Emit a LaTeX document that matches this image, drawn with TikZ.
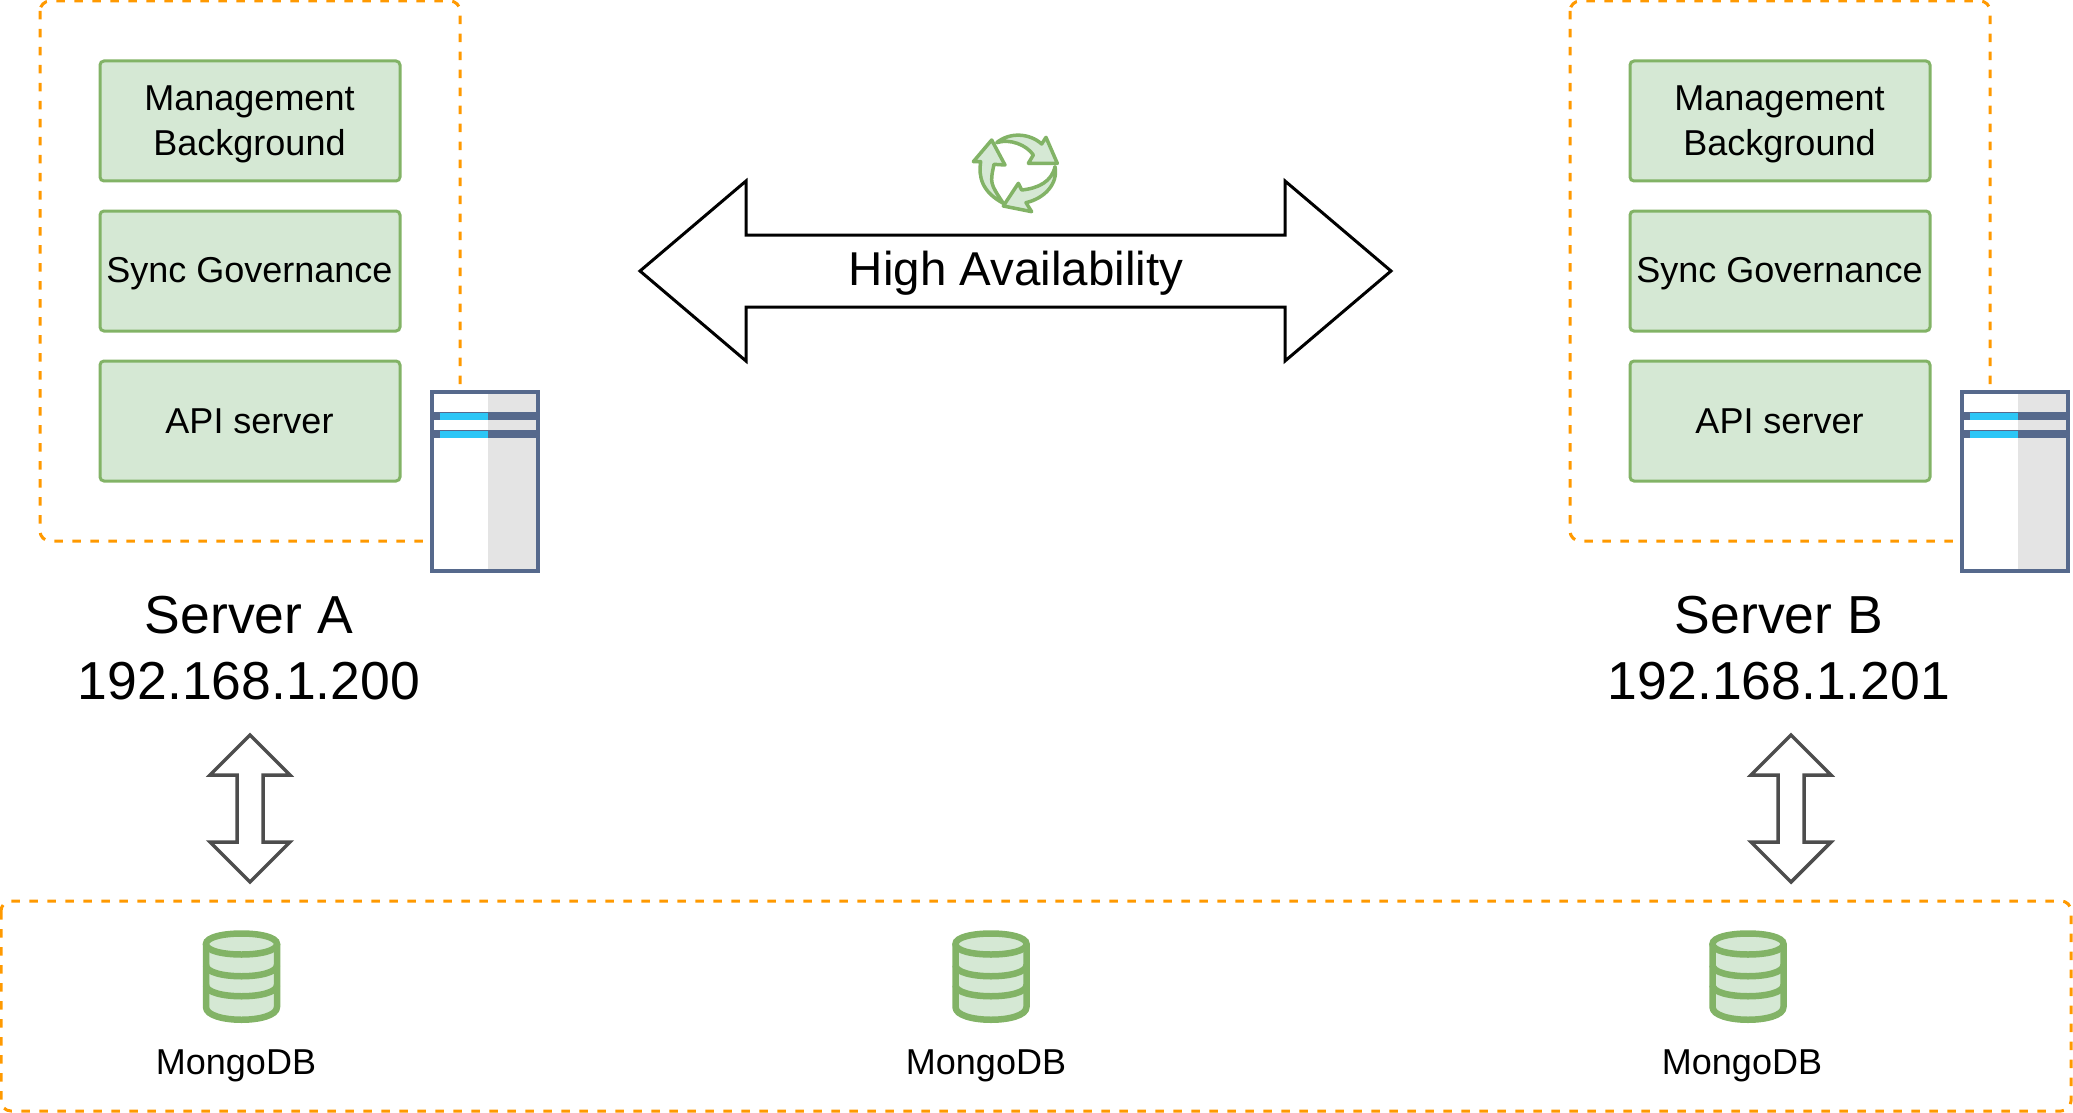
\documentclass[tikz,border=0pt]{standalone}
\usepackage{fontspec}
\setmainfont{Liberation Sans}
\definecolor{gfill}{HTML}{D5E8D4}
\definecolor{gline}{HTML}{82B366}
\definecolor{orng}{HTML}{FF9900}
\definecolor{srv}{HTML}{56698C}
\definecolor{cyanbar}{HTML}{2CC6F6}
\definecolor{graypan}{HTML}{E4E4E4}
\definecolor{darkarrow}{HTML}{4D4D4D}
\tikzset{
  greenbox/.style={draw=gline,fill=gfill,line width=3pt,rounded corners=4pt,minimum width=300pt,minimum height=120pt,inner sep=0pt,align=center,font=\fontsize{36}{45}\selectfont},
  greentext/.style={inner sep=0pt,align=center,font=\fontsize{36}{45}\selectfont},
  dashbox/.style={draw=orng,line width=3pt,dash pattern=on 8.5pt off 9.5pt,rounded corners=10pt},
  bigarrow/.style={draw=black,fill=white,line width=3pt,line join=miter},
  smallarrow/.style={draw=darkarrow,fill=white,line width=3.5pt,line join=miter},
  dbstroke/.style={draw=gline,line width=6.5pt},
  srvlabel/.style={align=center,font=\fontsize{53.5}{66}\selectfont,inner sep=0pt},
  dblabel/.style={font=\fontsize{36}{45}\selectfont,inner sep=0pt},
  arrowicon/.style={draw=gline,fill=gfill,line width=3.5pt,line join=round},
}
\newcommand{\serverblock}[3]{%
  \begin{scope}[shift={(#1,0)},name prefix=#2-]
    \draw[dashbox] (40,1) rectangle (460,541);
    \node[greenbox] (mgmt) at (250,121) {};
    \node[greenbox] (sync) at (250,271) {};
    \node[greenbox] (api) at (250,421) {};
    \node[greentext] (mgmttext) at (249.5,124.5) {Management\\Background};
    \node[greentext] (synctext) at (249.5,274) {Sync Governance};
    \node[greentext] (apitext) at (249.5,421) {API server};
    \fill[white] (431.5,392) rectangle (538,570.7);
    \fill[graypan] (488,392) rectangle (538,570.7);
    \fill[srv] (433,412) rectangle (536,420);
    \fill[cyanbar] (440,412.5) rectangle (488,419.5);
    \fill[srv] (433,430) rectangle (536,438);
    \fill[cyanbar] (440,430.5) rectangle (488,437.5);
    \draw[draw=srv,line width=4pt] (431.5,392) rectangle (538,570.7);
    \node[srvlabel] (label) at (249,648) {#3};
  \end{scope}}
\newcommand{\dbicon}[2]{%
  \begin{scope}[shift={(#1,0)},name prefix=#2-]
    \fill[gfill] (206,944) -- (206,1007) .. controls (206,1024) and (277,1024) .. (277,1007) -- (277,944) .. controls (277,930) and (206,930) .. (206,944) -- cycle;
    \draw[dbstroke] (206,944) .. controls (206,930) and (277,930) .. (277,944) .. controls (277,958) and (206,958) .. (206,944) -- cycle;
    \draw[dbstroke,line join=round] (206,944) -- (206,1007) .. controls (206,1024) and (277,1024) .. (277,1007) -- (277,944);
    \draw[dbstroke] (206,965) .. controls (206,980) and (277,980) .. (277,965);
    \draw[dbstroke] (206,985) .. controls (206,1000) and (277,1000) .. (277,985);
  \end{scope}}
\newcommand{\updown}[1]{%
  \draw[smallarrow] (#1,735) -- (#1+40,775) -- (#1+13,775) -- (#1+13,842) -- (#1+40,842) -- (#1,882) -- (#1-40,842) -- (#1-13,842) -- (#1-13,775) -- (#1-40,775) -- cycle;}
\begin{document}
\begin{tikzpicture}[x=1pt,y=-1pt]
\useasboundingbox (0,0) rectangle (2073,1113);
\serverblock{0}{a}{Server A\\192.168.1.200}
\serverblock{1530}{b}{Server B\\192.168.1.201}
% high availability arrow
\draw[bigarrow] (640,271) -- (746,181) -- (746,235) -- (1285,235) -- (1285,181) -- (1391,271) -- (1285,361) -- (1285,307) -- (746,307) -- (746,361) -- cycle;
\node[font=\fontsize{47.5}{58}\selectfont,inner sep=0pt] (ha) at (1016,273) {High Availability};
% recycle icon
\begin{scope}[shift={(950,120)},x=0.3333pt,y=-0.3333pt]
  \draw[arrowicon] (125,60) -- (165,135) -- (132,133) .. controls (120,190) .. (160,250) .. controls (95,215) and (85,170) .. (92,125) -- (70,125) -- cycle;
  \draw[arrowicon] (322,130) -- (288,52) -- (275,72) .. controls (240,40) and (180,35) .. (140,68) .. controls (180,55) and (230,75) .. (250,105) -- (235,130) -- cycle;
  \draw[arrowicon] (160,258) -- (245,275) -- (228,248) .. controls (285,235) and (325,190) .. (315,140) .. controls (305,185) and (265,205) .. (215,210) -- (205,190) -- cycle;
\end{scope}
% updown arrows
\updown{250}
\updown{1791}
% bottom box
\draw[dashbox] (1,901) rectangle (2071,1111);
\dbicon{0}{d1}
\dbicon{749.5}{d2}
\dbicon{1506.5}{d3}
\node[dblabel] (m1) at (236,1066) {MongoDB};
\node[dblabel] (m2) at (986,1066) {MongoDB};
\node[dblabel] (m3) at (1742,1066) {MongoDB};
\end{tikzpicture}
\end{document}
